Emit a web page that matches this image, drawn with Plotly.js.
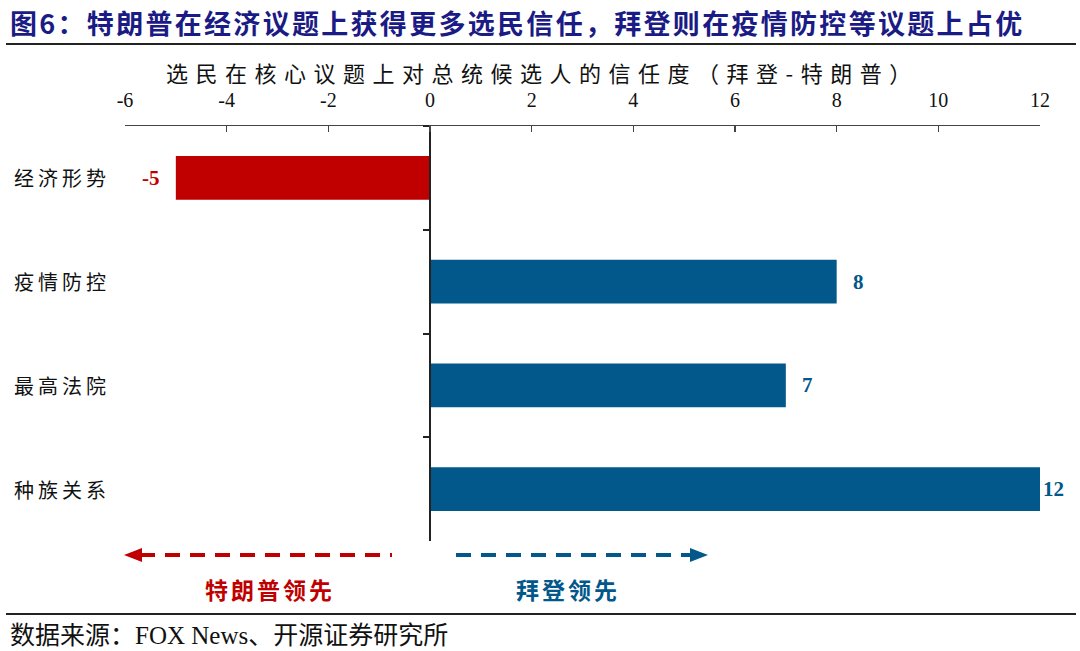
<!DOCTYPE html>
<html>
<head>
<meta charset="utf-8">
<script src="https://cdn.plot.ly/plotly-3.0.1.min.js"></script>
<style>html,body{margin:0;padding:0;background:#fff;}#chart{width:1080px;height:651px;}</style>
</head>
<body>
<div id="chart"></div>
<script>
const categories = ['经济形势', '疫情防控', '最高法院', '种族关系'];
const values = [-5, 8, 7, 12];
const xTickVals = [-6, -4, -2, 0, 2, 4, 6, 8, 10, 12];
const titleText = '图6：特朗普在经济议题上获得更多选民信任，拜登则在疫情防控等议题上占优';
const axisTitleText = '选民在核心议题上对总统候选人的信任度（拜登-特朗普）';
const leftLabel = '特朗普领先';
const rightLabel = '拜登领先';
const sourceText = '数据来源：FOX News、开源证券研究所';

const RED = '#C00000';
const BLUE = '#02588A';
const W = 1080, H = 651;
const M = {l: 125, r: 40, t: 126, b: 110};
const PW = W - M.l - M.r, PH = H - M.t - M.b;
const px = x => (x - M.l) / PW;
const py = y => (H - M.b - y) / PH;
const serifCJK = '"Noto Sans CJK SC", "Noto Sans", sans-serif';
const serifLatin = '"Liberation Serif", "Times New Roman", serif';
const spaced = (t, s) => '<span style="letter-spacing:' + s + 'px">' + t + '</span>';

const colors = values.map(v => v < 0 ? RED : BLUE);
const xMax = Math.max(...xTickVals);

const trace = {
  type: 'bar',
  orientation: 'h',
  x: values,
  y: categories,
  width: 0.42,
  marker: {color: colors, line: {width: 0}},
  hoverinfo: 'skip'
};

const annotations = [];
// bar value labels
values.forEach((v, i) => {
  const off = v >= xMax ? 1 : 14;
  annotations.push({
    x: v, y: categories[i], xref: 'x', yref: 'y',
    text: '<b>' + v + '</b>', showarrow: false,
    xanchor: v < 0 ? 'right' : 'left', yanchor: 'middle',
    xshift: v < 0 ? -off : off,
    font: {family: serifLatin, size: 21, color: colors[i]}
  });
});
// category labels
categories.forEach(c => {
  annotations.push({
    x: px(12), y: c, xref: 'paper', yref: 'y',
    text: spaced(c, 4), showarrow: false, xanchor: 'left', yanchor: 'middle',
    font: {family: serifCJK, size: 20, color: '#111'}
  });
});
// title
annotations.push({
  x: px(8), y: py(22), xref: 'paper', yref: 'paper',
  text: '<b>' + spaced(titleText, 2.3) + '</b>', showarrow: false, xanchor: 'left', yanchor: 'middle',
  font: {family: serifCJK, size: 27, color: '#1B1B85'}
});
// axis title
annotations.push({
  x: px(164), y: py(72), xref: 'paper', yref: 'paper',
  text: spaced(axisTitleText, 7.5), showarrow: false, xanchor: 'left', yanchor: 'middle',
  font: {family: serifCJK, size: 22, color: '#111'}
});
// arrow labels
annotations.push({
  x: px(270), y: py(589), xref: 'paper', yref: 'paper',
  text: '<b>' + spaced(leftLabel, 3) + '</b>', showarrow: false, xanchor: 'center', yanchor: 'middle',
  font: {family: serifCJK, size: 23, color: RED}
});
annotations.push({
  x: px(568), y: py(589), xref: 'paper', yref: 'paper',
  text: '<b>' + spaced(rightLabel, 3) + '</b>', showarrow: false, xanchor: 'center', yanchor: 'middle',
  font: {family: serifCJK, size: 23, color: BLUE}
});
// source
annotations.push({
  x: px(8), y: py(635), xref: 'paper', yref: 'paper',
  text: sourceText, showarrow: false, xanchor: 'left', yanchor: 'middle',
  font: {family: '"Liberation Serif", "Noto Sans CJK SC", serif', size: 25, color: '#111'}
});

const ay = py(555);
const shapes = [
  {type: 'line', xref: 'paper', yref: 'paper', x0: px(6), x1: px(1076), y0: py(44), y1: py(44), line: {color: '#222', width: 2}},
  {type: 'line', xref: 'paper', yref: 'paper', x0: px(6), x1: px(1076), y0: py(614), y1: py(614), line: {color: '#222', width: 2}},
  {type: 'line', xref: 'paper', yref: 'paper', x0: px(140), x1: px(392), y0: ay, y1: ay, line: {color: RED, width: 4, dash: '15px,10px'}},
  {type: 'path', xref: 'paper', yref: 'paper', path: 'M' + px(124) + ',' + ay + ' L' + px(142) + ',' + py(548) + ' L' + px(142) + ',' + py(562) + ' Z', fillcolor: RED, line: {width: 0}},
  {type: 'line', xref: 'paper', yref: 'paper', x0: px(456), x1: px(692), y0: ay, y1: ay, line: {color: BLUE, width: 4, dash: '15px,10px'}},
  {type: 'path', xref: 'paper', yref: 'paper', path: 'M' + px(708) + ',' + ay + ' L' + px(690) + ',' + py(548) + ' L' + px(690) + ',' + py(562) + ' Z', fillcolor: BLUE, line: {width: 0}}
];

const layout = {
  width: W, height: H,
  margin: M,
  paper_bgcolor: '#fff', plot_bgcolor: '#fff',
  showlegend: false,
  xaxis: {
    side: 'top', range: [-6, 12], tickvals: xTickVals, ticktext: xTickVals.map(String),
    showline: true, linecolor: '#444', linewidth: 1.5,
    ticks: 'inside', ticklen: 6, tickwidth: 1.5, tickcolor: '#444',
    ticklabelstandoff: 10,
    showgrid: false, zeroline: false,
    tickfont: {family: serifLatin, size: 20, color: '#111'}
  },
  yaxis: {
    type: 'category', categoryorder: 'array', categoryarray: categories,
    autorange: 'reversed',
    anchor: 'free', position: (0 - (-6)) / (12 - (-6)),
    showline: true, linecolor: '#222', linewidth: 2,
    ticks: 'outside', ticklen: 6, tickwidth: 2, tickcolor: '#222', tickson: 'boundaries',
    showticklabels: false, showgrid: false, zeroline: false
  },
  annotations: annotations,
  shapes: shapes
};

Plotly.newPlot('chart', [trace], layout, {displayModeBar: false, staticPlot: true});
</script>
</body>
</html>
